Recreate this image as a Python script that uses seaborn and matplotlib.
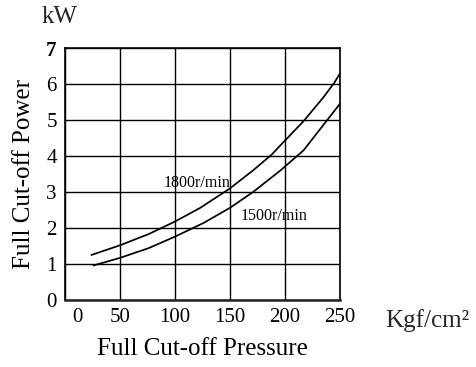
import matplotlib
matplotlib.use("Agg")
import matplotlib.pyplot as plt
import matplotlib.transforms as mtransforms
import seaborn as sns
import pandas as pd

# Data
p_1800 = [24, 50, 76, 100, 123, 150, 171, 188, 196, 217, 235, 245, 250]
kw_1800 = [1.25, 1.52, 1.83, 2.18, 2.56, 3.10, 3.60, 4.04, 4.30, 4.97, 5.63, 6.04, 6.29]
p_1500 = [26, 50, 76, 100, 126, 150, 171, 196, 217, 238, 250]
kw_1500 = [0.96, 1.17, 1.44, 1.76, 2.14, 2.56, 3.00, 3.60, 4.16, 4.98, 5.45]
x_ticks = [0, 50, 100, 150, 200, 250]
y_ticks = [0, 1, 2, 3, 4, 5, 6, 7]

df = pd.concat([
    pd.DataFrame({"p": p_1800, "kw": kw_1800, "speed": "1800r/min"}),
    pd.DataFrame({"p": p_1500, "kw": kw_1500, "speed": "1500r/min"}),
])

sns.set_theme(style="white")
plt.rcParams["font.family"] = ["Liberation Serif", "DejaVu Serif"]

fig = plt.figure(figsize=(4.76, 3.67), dpi=100)
ax = fig.add_axes([0.1366, 0.1826, 0.5774, 0.6864])

sns.lineplot(data=df, x="p", y="kw", hue="speed", palette=["black", "black"],
             linewidth=1.25, legend=False, ax=ax, sort=True)

ax.set_xlim(0, 250)
ax.set_ylim(0, 7)
ax.set_xticks(x_ticks)
ax.set_yticks(y_ticks)
ax.set_xticklabels([str(v) for v in x_ticks], fontsize=15)
ax.set_yticklabels([str(v) for v in y_ticks], fontsize=15)
ax.get_yticklabels()[-1].set_fontweight("bold")
ax.tick_params(axis="both", length=0, pad=6, colors="black")
lbl0 = ax.get_xticklabels()[0]
lbl0.set_transform(lbl0.get_transform() + mtransforms.ScaledTranslation(12 / 100, 0, fig.dpi_scale_trans))
ax.grid(True, color="black", linewidth=1.0)
for s in ax.spines.values():
    s.set_color("black")
    s.set_linewidth(1.2)
ax.spines["bottom"].set_linewidth(1.8)
ax.spines["bottom"].set_color("#222222")

ax.set_xlabel("Full Cut-off Pressure", fontsize=18, labelpad=8, color="black")
ax.set_ylabel("Full Cut-off Power", fontsize=18, labelpad=8, color="black")

ax.text(90, 3.25, "1800r/min", fontsize=11.5, ha="left", va="center", color="black")
ax.text(160, 2.33, "1500r/min", fontsize=11.5, ha="left", va="center", color="black")

fig.text(60 / 476, 1 - 17 / 367, "kW", fontsize=18, ha="center", va="center")
fig.text(427 / 476, 1 - 321 / 367, "Kgf/cm²", fontsize=18, ha="center", va="center")

fig.savefig("out.png", dpi=100)
